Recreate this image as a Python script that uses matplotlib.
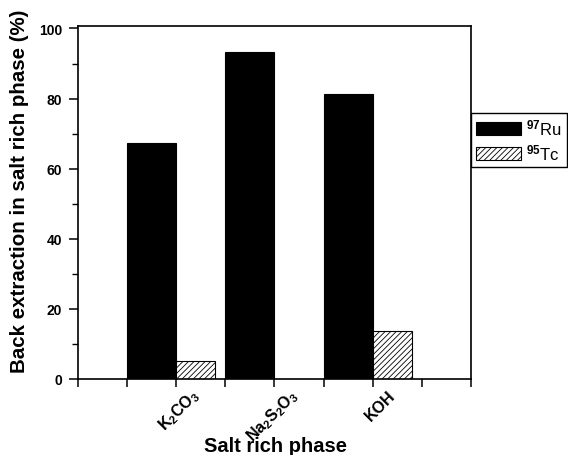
import numpy as np
import matplotlib
matplotlib.use('Agg')
import matplotlib.pyplot as plt
from matplotlib.ticker import MultipleLocator, FixedLocator

plt.rcParams['font.family'] = ['Liberation Sans', 'DejaVu Sans']
plt.rcParams['mathtext.fontset'] = 'custom'
plt.rcParams['mathtext.rm'] = 'Liberation Sans:bold'
plt.rcParams['mathtext.default'] = 'rm'
plt.rcParams['hatch.linewidth'] = 0.6

salts = ['K$_2$CO$_3$', 'Na$_2$S$_2$O$_3$', 'KOH']
ru = [67.4, 93.3, 81.2]
tc = [5.0, 0.0, 13.6]

fig = plt.figure(figsize=(5.68, 4.56), dpi=100)
ax = fig.add_axes([0.1373, 0.1667, 0.6917, 0.774])

pos = np.array([2, 4, 6])
ax.bar(pos, ru, width=-1.0, align='edge', color='black', edgecolor='black',
       linewidth=0.8, label='$^{97}$Ru')
ax.bar(pos, tc, width=0.8, align='edge', color='white', edgecolor='black',
       hatch='//////', linewidth=0.8, label='$^{95}$Tc')

ax.set_xlim(0, 8)
ax.set_ylim(0, 100.7)
ax.xaxis.set_major_locator(FixedLocator(range(9)))
ax.set_xticklabels([])
for p, s in zip(pos, salts):
    ax.text(p + 0.42, -3.8, s, rotation=45, rotation_mode='anchor', ha='right',
            va='center', fontsize=11.5, fontweight='bold')

ax.yaxis.set_major_locator(MultipleLocator(20))
ax.yaxis.set_minor_locator(MultipleLocator(10))
ax.tick_params(axis='y', which='major', direction='out', length=6.5, width=1.1,
               labelsize=10, pad=5)
ax.tick_params(axis='y', which='minor', direction='out', length=4, width=1.0)
ax.tick_params(axis='x', which='major', direction='out', length=5.5, width=1.1)
for lab in ax.get_yticklabels():
    lab.set_fontweight('bold')
for sp in ax.spines.values():
    sp.set_linewidth(1.2)

fig.text(0.034, 0.58, 'Back extraction in salt rich phase (%)', rotation=90,
         ha='center', va='center', fontsize=14.8, fontweight='bold')
fig.text(0.485, 0.0, 'Salt rich phase', ha='center', va='bottom',
         fontsize=14.5, fontweight='bold')

leg = ax.legend(loc='upper left', bbox_to_anchor=(1.0, 0.755), borderaxespad=0,
                fancybox=False, edgecolor='black', fontsize=12, framealpha=1,
                handlelength=2.7, handleheight=0.85, labelspacing=0.3,
                handletextpad=0.3, borderpad=0.3)
leg.get_frame().set_linewidth(1.0)

fig.savefig('out.png', dpi=100)
